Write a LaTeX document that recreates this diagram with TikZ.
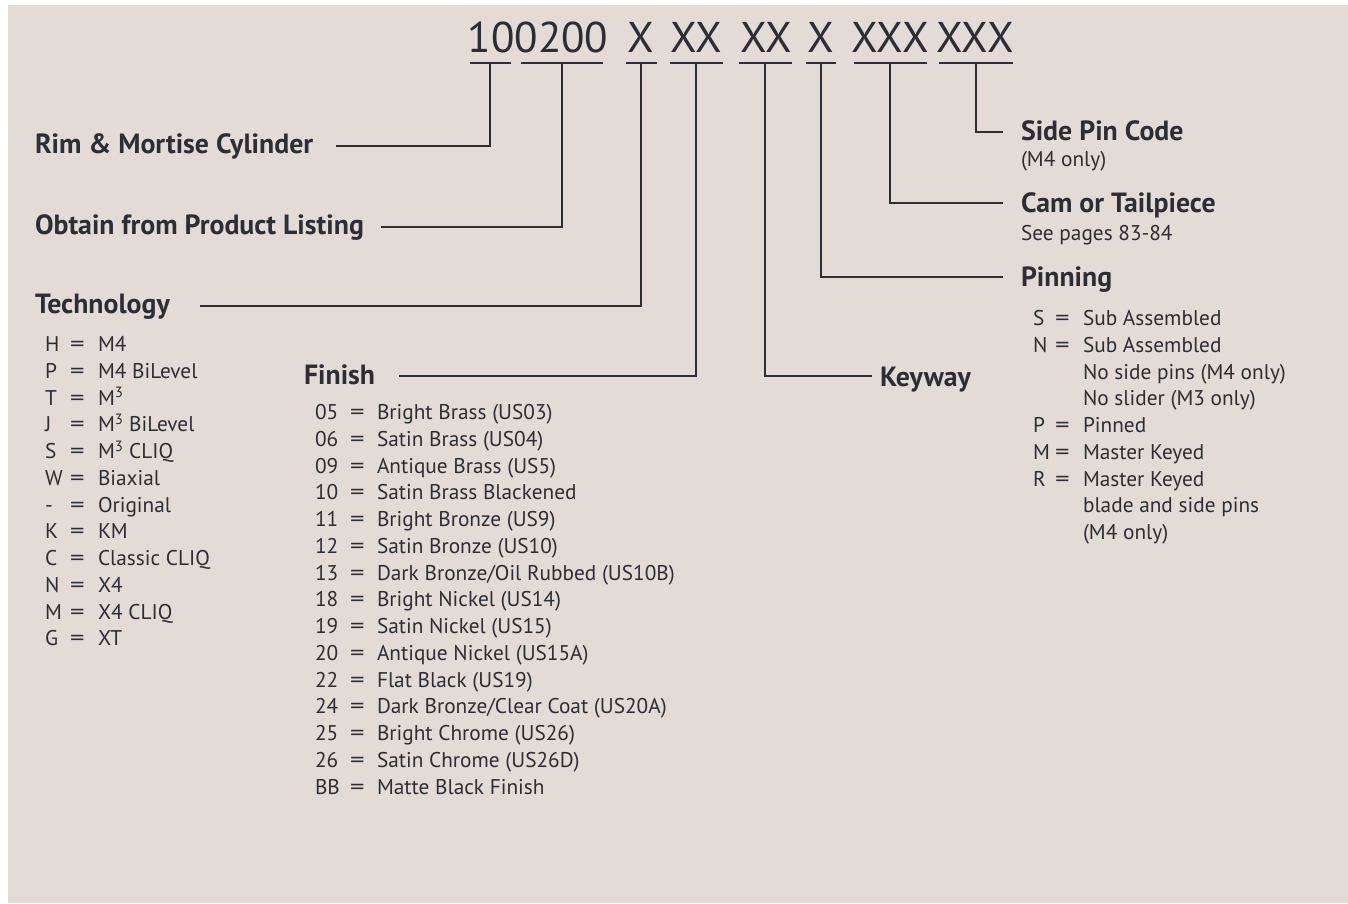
\documentclass[tikz,border=0pt]{standalone}
\usepackage{fontspec}
\setmainfont{PT Sans}
\usepackage{array}
\definecolor{bg}{HTML}{E2DBD6}
\definecolor{ink}{HTML}{2C2E36}
\newcommand{\titlefont}{\fontsize{43}{50}\selectfont}
\newcommand{\headfont}{\fontsize{27.8}{32}\selectfont\bfseries}
\newcommand{\listfont}{\fontsize{21.3}{26.75}\selectfont}
\newcommand{\eqs}{\scalebox{1.35}[1.05]{=}}
\begin{document}
\begin{tikzpicture}[x=1pt,y=-1pt,
  every node/.style={text=ink, inner sep=0pt, outer sep=0pt},
  code/.style={font=\titlefont, anchor=base},
  ul/.style={minimum height=0pt, inner sep=0pt},
  conn/.style={draw=ink, line width=2.3pt},
  head/.style={font=\headfont, anchor=base west},
  sub/.style={font=\listfont, anchor=base west},
  lst/.style={font=\listfont, anchor=north west, align=left}]
\useasboundingbox (0,0) rectangle (1348,903);
\fill[white] (0,0) rectangle (1348,903);
\fill[bg] (8,5) rectangle (1348,903);

% code groups
\node[code] (c1) at (538,52) {100200};
\node[code] (c2) at (641,52) {X};
\node[code] (c3) at (696,52) {XX};
\node[code] (c4) at (766,52) {XX};
\node[code] (c5) at (821,52) {X};
\node[code] (c6) at (890,52) {XXX};
\node[code] (c7) at (975,52) {XXX};

% underline segments
\node[ul, minimum width=41pt] (u1) at (490,63) {};
\node[ul, minimum width=82pt] (u2) at (562,63) {};
\node[ul, minimum width=31pt] (u3) at (641,63) {};
\node[ul, minimum width=53pt] (u4) at (696,63) {};
\node[ul, minimum width=53pt] (u5) at (765,63) {};
\node[ul, minimum width=30pt] (u6) at (821,63) {};
\node[ul, minimum width=73pt] (u7) at (890,63) {};
\node[ul, minimum width=74pt] (u8) at (976,63) {};
\foreach \u in {u1,u2,u3,u4,u5,u6,u7,u8}
  \draw[conn] (\u.west) -- (\u.east);

% labels
\node[head] (rim) at (35,153) {Rim \& Mortise Cylinder};
\node[head] (obt) at (35,234) {Obtain from Product Listing};
\node[head] (tec) at (35,313) {Technology};
\node[head] (fin) at (304,384) {Finish};
\node[head] (key) at (880,386) {Keyway};
\node[head] (spc) at (1021,140) {Side Pin Code};
\node[sub] (spcs) at (1021,166) {(M4 only)};
\node[head] (cam) at (1021,212) {Cam or Tailpiece};
\node[sub] (cams) at (1021,240) {See pages 83-84};
\node[head] (pin) at (1021,286) {Pinning};

% connector ends
\coordinate (e1) at (336,146);
\coordinate (e2) at (381,227);
\coordinate (e3) at (200,306);
\coordinate (e4) at (399,376);
\coordinate (e5) at (872,376);
\coordinate (e6) at (1003,277);
\coordinate (e7) at (1003,203);
\coordinate (e8) at (1003,132);

\draw[conn] (u1.center) |- (e1);
\draw[conn] (u2.center) |- (e2);
\draw[conn] (u3.center) |- (e3);
\draw[conn] (u4.center) |- (e4);
\draw[conn] (u5.center) |- (e5);
\draw[conn] (u6.center) |- (e6);
\draw[conn] (u7.center) |- (e7);
\draw[conn] (u8.center) |- (e8);

% technology list
\node[lst] (tlist) at (45,333) {\begin{tabular}{@{}p{25pt}@{}p{28pt}@{}l@{}}
H & \eqs & M4\\
P & \eqs & M4 BiLevel\\
T & \eqs & M\textsuperscript{3}\\
J & \eqs & M\textsuperscript{3} BiLevel\\
S & \eqs & M\textsuperscript{3} CLIQ\\
W & \eqs & Biaxial\\
- & \eqs & Original\\
K & \eqs & KM\\
C & \eqs & Classic CLIQ\\
N & \eqs & X4\\
M & \eqs & X4 CLIQ\\
G & \eqs & XT
\end{tabular}};

% finish list
\node[lst] (flist) at (315,401) {\begin{tabular}{@{}p{35pt}@{}p{27pt}@{}l@{}}
05 & \eqs & Bright Brass (US03)\\
06 & \eqs & Satin Brass (US04)\\
09 & \eqs & Antique Brass (US5)\\
10 & \eqs & Satin Brass Blackened\\
11 & \eqs & Bright Bronze (US9)\\
12 & \eqs & Satin Bronze (US10)\\
13 & \eqs & Dark Bronze/Oil Rubbed (US10B)\\
18 & \eqs & Bright Nickel (US14)\\
19 & \eqs & Satin Nickel (US15)\\
20 & \eqs & Antique Nickel (US15A)\\
22 & \eqs & Flat Black (US19)\\
24 & \eqs & Dark Bronze/Clear Coat (US20A)\\
25 & \eqs & Bright Chrome (US26)\\
26 & \eqs & Satin Chrome (US26D)\\
BB & \eqs & Matte Black Finish
\end{tabular}};

% pinning list
\node[lst] (plist) at (1033,307) {\begin{tabular}{@{}p{22pt}@{}p{28pt}@{}l@{}}
S & \eqs & Sub Assembled\\
N & \eqs & Sub Assembled\\
  &   & No side pins (M4 only)\\
  &   & No slider (M3 only)\\
P & \eqs & Pinned\\
M & \eqs & Master Keyed\\
R & \eqs & Master Keyed\\
  &   & blade and side pins\\
  &   & (M4 only)
\end{tabular}};
\end{tikzpicture}
\end{document}
